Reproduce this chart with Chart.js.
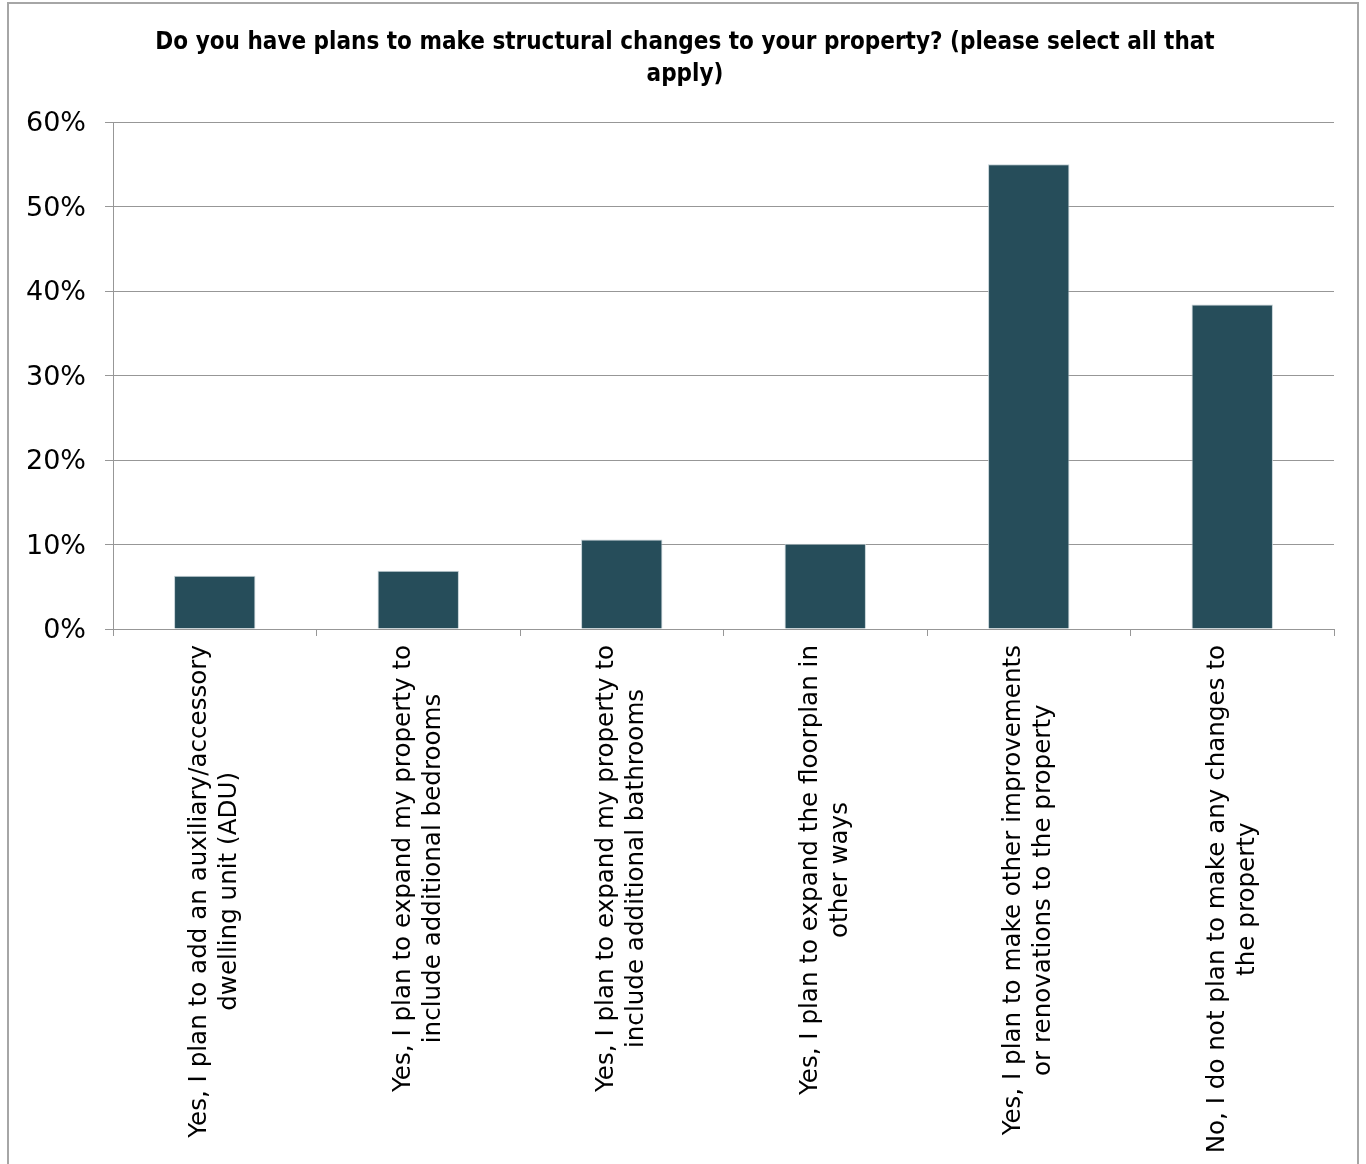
<!DOCTYPE html>
<html>
<head>
<meta charset="utf-8">
<title>Structural changes to property</title>
<script src="https://cdn.jsdelivr.net/npm/chart.js@4.4.1/dist/chart.umd.min.js"></script>
<style>
  html, body { margin: 0; padding: 0; background: #ffffff; overflow: hidden; }
  #wrap { position: relative; width: 1366px; height: 1164px; }
  #frame {
    position: absolute; left: 7px; top: 2px; width: 1348px; height: 1200px;
    border: 2px solid #a6a6a6; pointer-events: none; box-sizing: content-box;
  }
  canvas { position: absolute; left: 0; top: 0; }
</style>
</head>
<body>
<div id="wrap">
  <canvas id="chart" width="1366" height="1164"></canvas>
  <div id="frame"></div>
</div>
<script>
// Survey answers (multi-line category labels)
const categories = [
  ['Yes, I plan to add an auxiliary/accessory', 'dwelling unit (ADU)'],
  ['Yes, I plan to expand my property to', 'include additional bedrooms'],
  ['Yes, I plan to expand my property to', 'include additional bathrooms'],
  ['Yes, I plan to expand the floorplan in', 'other ways'],
  ['Yes, I plan to make other improvements', 'or renovations to the property'],
  ['No, I do not plan to make any changes to', 'the property']
];

// Share of respondents (%)
const shares = [6.3, 6.9, 10.6, 10.1, 55.0, 38.4];

// Value axis ticks (%)
const yTicks = [0, 10, 20, 30, 40, 50, 60];

const titleLines = [
  'Do you have plans to make structural changes to your property? (please select all that',
  'apply)'
];

const GRID = '#979797';
const BAR = '#264d5a';

// Two-line bold heading, centred on the page
const heading = {
  id: 'heading',
  afterDraw(chart) {
    const ctx = chart.ctx;
    ctx.save();
    ctx.font = 'bold 24px "DejaVu Sans Condensed", "DejaVu Sans", sans-serif';
    ctx.fillStyle = '#000000';
    ctx.textAlign = 'center';
    ctx.textBaseline = 'middle';
    titleLines.forEach((line, i) => ctx.fillText(line, 685, 43 + i * 32));
    ctx.restore();
  }
};

// Category labels: rotated, lines centred on each other, block anchored below the axis
const categoryLabels = {
  id: 'categoryLabels',
  afterDraw(chart) {
    const ctx = chart.ctx;
    const xs = chart.scales.x;
    const lh = 30;
    ctx.save();
    ctx.font = '24.6px "DejaVu Sans", Verdana, sans-serif';
    ctx.fillStyle = '#000000';
    ctx.textAlign = 'center';
    ctx.textBaseline = 'middle';
    const top = chart.chartArea.bottom + 16;
    categories.forEach((lines, i) => {
      const px = xs.getPixelForValue(i);
      const maxW = Math.max(...lines.map(l => ctx.measureText(l).width));
      const cy = top + maxW / 2;
      lines.forEach((line, j) => {
        const lx = px + (j - (lines.length - 1) / 2) * lh;
        ctx.save();
        ctx.translate(lx, cy);
        ctx.rotate(-Math.PI / 2);
        ctx.fillText(line, 0, 0);
        ctx.restore();
      });
    });
    ctx.restore();
  }
};

new Chart(document.getElementById('chart'), {
  type: 'bar',
  data: {
    labels: categories.map(c => c.join(' ')),
    datasets: [{
      data: shares,
      backgroundColor: BAR,
      borderColor: 'rgba(190,204,210,0.9)',
      borderWidth: 1,
      categoryPercentage: 1.0,
      barPercentage: 0.4
    }]
  },
  options: {
    responsive: false,
    animation: false,
    devicePixelRatio: 1,
    layout: { padding: { left: 0, right: 32, top: 122, bottom: 0 } },
    plugins: {
      legend: { display: false },
      tooltip: { enabled: false },
      title: { display: false }
    },
    scales: {
      x: {
        type: 'category',
        offset: true,
        ticks: { display: false },
        grid: {
          display: true,
          offset: true,
          drawOnChartArea: false,
          drawTicks: true,
          tickLength: 7,
          color: GRID,
          lineWidth: 1
        },
        border: { display: true, color: GRID, width: 1 },
        afterFit(scale) { scale.height = 1164 - 629; }
      },
      y: {
        min: 0,
        max: 60,
        afterBuildTicks(scale) { scale.ticks = yTicks.map(v => ({ value: v })); },
        ticks: {
          padding: 19,
          labelOffset: 2,
          color: '#000000',
          font: { family: '"DejaVu Sans", Verdana, sans-serif', size: 27 },
          callback: v => v + '%'
        },
        grid: {
          color: GRID,
          lineWidth: 1,
          drawTicks: true,
          tickLength: 8
        },
        border: { display: true, color: GRID, width: 1 },
        afterFit(scale) { scale.width = 113; }
      }
    }
  },
  plugins: [heading, categoryLabels]
});
</script>
</body>
</html>
